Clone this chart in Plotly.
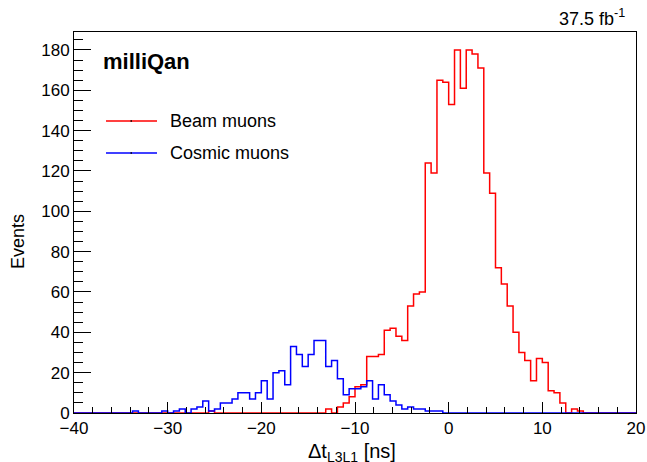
import plotly.graph_objects as go

# Histogram binning
BIN_LOW = -40.0
BIN_WIDTH = 0.625
N_BINS = 96

# Bin contents (Events)
beam_muons = [
    0, 0, 0, 0, 0, 0, 0, 0, 0, 0,
    0, 0, 0, 0, 0, 0, 0, 0, 0, 0,
    0, 0, 0, 1, 0, 0, 0, 0, 0, 0,
    0, 0, 0, 0, 0, 0, 0, 0, 0, 0,
    0, 0, 0, 2, 0, 3, 5, 8, 13, 14,
    28, 28, 29, 41, 42, 38, 36, 53, 59, 60,
    124, 119, 165, 164, 153, 180, 161, 180, 178, 171,
    119, 109, 72, 64, 53, 40, 30, 26, 16, 27,
    25, 11, 10, 5, 0, 2, 1, 0, 0, 0,
    0, 0, 0, 0, 0, 0,
]
cosmic_muons = [
    0, 0, 0, 0, 0, 0, 0, 0, 0, 0,
    1, 0, 0, 0, 0, 1, 0, 1, 2, 0,
    2, 3, 6, 1, 2, 5, 5, 7, 10, 10,
    7, 10, 16, 7, 20, 21, 14, 33, 29, 23,
    29, 36, 36, 23, 26, 17, 9, 12, 12, 13,
    16, 7, 14, 9, 6, 4, 2, 3, 2, 2,
    1, 1, 1, 0, 0, 0, 0, 0, 0, 0,
    0, 0, 0, 0, 0, 0, 0, 0, 0, 0,
    0, 0, 0, 0, 0, 0, 0, 0, 0, 0,
    0, 0, 0, 0, 0, 0,
]
series_names = ["Beam muons", "Cosmic muons"]
series_colors = ["#ff0000", "#0000ff"]

x_ticks = [-40, -30, -20, -10, 0, 10, 20]
y_ticks = [0, 20, 40, 60, 80, 100, 120, 140, 160, 180]

edges = [BIN_LOW + i * BIN_WIDTH for i in range(N_BINS + 1)]

FONT = "Liberation Sans, Arial, Helvetica, sans-serif"

fig = go.Figure()
for counts, name, color in zip([beam_muons, cosmic_muons], series_names, series_colors):
    fig.add_trace(go.Scatter(
        x=edges, y=list(counts) + [counts[-1]],
        mode="lines", line=dict(color=color, width=1.5, shape="hv"),
        name=name, showlegend=False, hoverinfo="skip",
    ))

W, H = 647, 462
L, R, T, B = 74, 11, 32, 49
pw, ph = W - L - R, H - T - B


def px(xp):
    return (xp - L) / pw


def py(yp):
    return (H - B - yp) / ph


fig.update_layout(
    width=W, height=H,
    margin=dict(l=L, r=R, t=T, b=B, pad=0, autoexpand=False),
    paper_bgcolor="white", plot_bgcolor="white",
    font=dict(family=FONT, size=17, color="black"),
    showlegend=False,
    xaxis=dict(
        range=[-40, 20], tickvals=x_ticks, ticks="inside", ticklen=11,
        tickcolor="black", tickwidth=1, showgrid=False, zeroline=False,
        showline=True, linecolor="black", linewidth=1, mirror=True, automargin=False,
        minor=dict(dtick=2, ticks="inside", ticklen=6, tickcolor="black", tickwidth=1, showgrid=False),
        tickfont=dict(size=17, family=FONT),
    ),
    yaxis=dict(
        range=[0, 188.9], tickvals=y_ticks, ticks="inside", ticklen=17,
        tickcolor="black", tickwidth=1, showgrid=False, zeroline=False,
        showline=True, linecolor="black", linewidth=1, mirror=True, automargin=False,
        minor=dict(dtick=5, ticks="inside", ticklen=9, tickcolor="black", tickwidth=1, showgrid=False),
        tickfont=dict(size=17, family=FONT),
    ),
)

annotations = [
    dict(text="37.5 fb<sup>-1</sup>", x=px(627), y=py(18), xanchor="right", yanchor="middle",
         font=dict(size=18)),
    dict(text="<b>milliQan</b>", x=px(101), y=py(62), xanchor="left", yanchor="middle",
         font=dict(size=22)),
    dict(text="Beam muons", x=px(168), y=py(121), xanchor="left", yanchor="middle",
         font=dict(size=18)),
    dict(text="Cosmic muons", x=px(168), y=py(153), xanchor="left", yanchor="middle",
         font=dict(size=18)),
    dict(text="Events", x=px(18), y=py(242), xanchor="center", yanchor="middle",
         textangle=-90, font=dict(size=18)),
    dict(text="Δt<sub>L3L1</sub> [ns]", x=px(352), y=py(452), xanchor="center", yanchor="middle",
         font=dict(size=20)),
]
for a in annotations:
    a.update(xref="paper", yref="paper", showarrow=False)
fig.update_layout(annotations=annotations)

shapes = []
for ypix, color in [(121, series_colors[0]), (153, series_colors[1])]:
    shapes.append(dict(type="line", xref="paper", yref="paper",
                       x0=px(106), x1=px(157), y0=py(ypix), y1=py(ypix),
                       line=dict(color=color, width=1.5)))
    shapes.append(dict(type="line", xref="paper", yref="paper",
                       x0=px(130.5), x1=px(132), y0=py(ypix), y1=py(ypix),
                       line=dict(color="black", width=1.5)))
fig.update_layout(shapes=shapes)

fig.write_html("out.html")
